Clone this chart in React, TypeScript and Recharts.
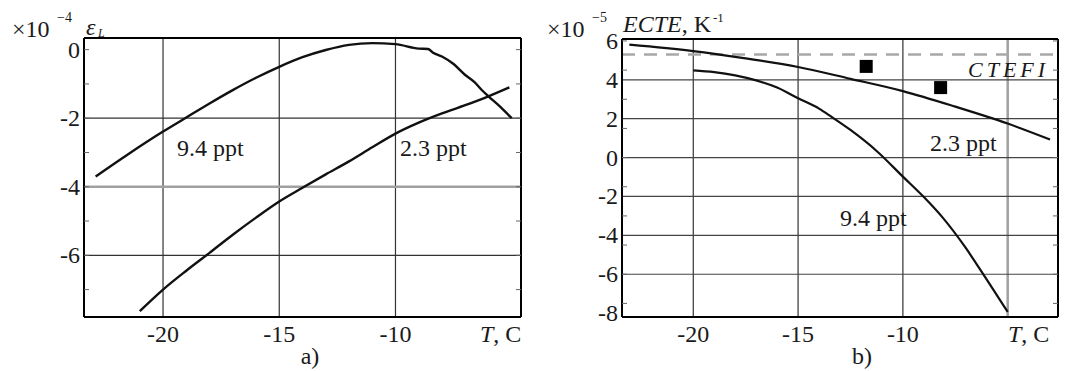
import React from "react";
import { ComposedChart, Line, Scatter, XAxis, YAxis, ReferenceLine } from "recharts";

// panel a) strain vs temperature, x10^-4
const epsHigh = [
  { x: -22.9, y: -3.7 }, { x: -21.5, y: -3.05 }, { x: -20, y: -2.39 }, { x: -19, y: -1.98 },
  { x: -18, y: -1.57 }, { x: -17, y: -1.18 }, { x: -16, y: -0.82 }, { x: -15, y: -0.5 },
  { x: -14, y: -0.22 }, { x: -13, y: -0.01 }, { x: -12, y: 0.14 }, { x: -11, y: 0.19 },
  { x: -10, y: 0.16 }, { x: -9, y: 0.03 }, { x: -8.6, y: 0.02 }, { x: -8.4, y: -0.08 },
  { x: -8, y: -0.2 }, { x: -7.5, y: -0.42 }, { x: -7, y: -0.74 }, { x: -6.6, y: -0.95 },
  { x: -6.3, y: -1.17 }, { x: -6, y: -1.36 }, { x: -5.5, y: -1.66 }, { x: -5, y: -2.0 },
];
const epsLow = [
  { x: -21, y: -7.63 }, { x: -20, y: -7.0 }, { x: -19, y: -6.45 }, { x: -18, y: -5.93 },
  { x: -17, y: -5.4 }, { x: -16, y: -4.9 }, { x: -15, y: -4.43 }, { x: -14, y: -4.03 },
  { x: -13, y: -3.64 }, { x: -12, y: -3.26 }, { x: -11, y: -2.85 }, { x: -10, y: -2.45 },
  { x: -9, y: -2.13 }, { x: -8, y: -1.86 }, { x: -7, y: -1.62 }, { x: -6, y: -1.36 },
  { x: -5.1, y: -1.1 },
];

// panel b) ECTE vs temperature, x10^-5 K^-1
const ecteLow = [
  { x: -23.05, y: 5.81 }, { x: -20, y: 5.48 }, { x: -17.5, y: 5.1 }, { x: -15, y: 4.66 },
  { x: -12.5, y: 4.05 }, { x: -10, y: 3.42 }, { x: -7.5, y: 2.62 }, { x: -5, y: 1.75 },
  { x: -2.98, y: 0.93 },
];
const ecteHigh = [
  { x: -20, y: 4.49 }, { x: -19, y: 4.4 }, { x: -18, y: 4.23 }, { x: -17, y: 3.97 },
  { x: -16, y: 3.6 }, { x: -15, y: 3.05 }, { x: -14, y: 2.52 }, { x: -13.4, y: 2.09 },
  { x: -12.5, y: 1.42 }, { x: -11.2, y: 0.29 }, { x: -10, y: -0.98 }, { x: -9, y: -2.03 },
  { x: -8.13, y: -3.05 }, { x: -7, y: -4.65 }, { x: -6.5, y: -5.45 }, { x: -5, y: -7.94 },
];
const measured = [{ x: -11.75, y: 4.69 }, { x: -8.2, y: 3.6 }];
const ctefi = 5.3;

const ticksXA = [-20, -15, -10];
const ticksYA = [0, -2, -4, -6];
const ticksXB = [-20, -15, -10];
const ticksYB = [6, 4, 2, 0, -2, -4, -6, -8];

const range = (a: number, b: number, s: number) => {
  const out: number[] = [];
  for (let v = a; v <= b + 1e-9; v += s) out.push(Math.round(v * 100) / 100);
  return out;
};

const FONT = "Liberation Serif";
const FS = 24;

const xTick = (p: any) => (
  <text x={p.x} y={p.y + 25} textAnchor="middle" fontFamily={FONT} fontSize={FS} fill="#1a1a1a">
    {p.payload.value}
  </text>
);
const yTick = (p: any) => (
  <text x={p.x - 4} y={p.y + 8} textAnchor="end" fontFamily={FONT} fontSize={FS} fill="#1a1a1a">
    {p.payload.value}
  </text>
);
const noLabel = () => <g />;

const square = (p: any) => <rect x={p.cx - 6.5} y={p.cy - 6.5} width={13} height={13} fill="#000" />;

export default function App() {
  const minorProps = { tick: noLabel, tickSize: 5, mirror: true, axisLine: { stroke: "#000", strokeWidth: 2 }, tickLine: { stroke: "#666", strokeWidth: 1 } } as any;
  const domA = { x: [-23.4, -4.6], y: [-7.8, 0.34] };
  const domB = { x: [-23.4, -2.6], y: [-8.2, 6.1] };
  const mxA = range(-23, -5, 1);
  const myA = range(-7.5, 0, 0.5);
  const mxB = range(-23, -3, 1);
  const myB = range(-8, 6, 0.5);

  return (
    <div style={{ position: "absolute", left: 0, top: 0, width: 1075, height: 371, background: "#fff" }}>
      <div style={{ position: "absolute", left: 0, top: 0 }}>
        <ComposedChart width={537} height={371} margin={{ top: 38, left: 83, right: 16, bottom: 53 }}>
          <XAxis dataKey="x" type="number" domain={domA.x} allowDataOverflow ticks={ticksXA} height={1}
            tickLine={false} axisLine={false} tickSize={0} tickMargin={0} tick={xTick} />
          <YAxis type="number" domain={domA.y} allowDataOverflow ticks={ticksYA} width={1}
            tickLine={false} axisLine={false} tickSize={0} tickMargin={0} tick={yTick} />
          <XAxis xAxisId="b" orientation="bottom" type="number" domain={domA.x} allowDataOverflow ticks={mxA} height={1} {...minorProps} />
          <XAxis xAxisId="t" orientation="top" type="number" domain={domA.x} allowDataOverflow ticks={mxA} height={1} {...minorProps} />
          <YAxis yAxisId="l" orientation="left" type="number" domain={domA.y} allowDataOverflow ticks={myA} width={1} {...minorProps} />
          <YAxis yAxisId="r" orientation="right" type="number" domain={domA.y} allowDataOverflow ticks={myA} width={1} {...minorProps} />
          {ticksXA.map((v) => <ReferenceLine key={"vx" + v} x={v} stroke="#333" strokeWidth={1.2} />)}
          <ReferenceLine y={-2} stroke="#333" strokeWidth={1.2} />
          <ReferenceLine y={-4} stroke="#a0a0a0" strokeWidth={2.5} />
          <ReferenceLine y={-6} stroke="#333" strokeWidth={1.2} />
          <Line data={epsHigh} dataKey="y" type="monotone" stroke="#111" strokeWidth={2.4} dot={false} isAnimationActive={false} />
          <Line data={epsLow} dataKey="y" type="monotone" stroke="#111" strokeWidth={2.4} dot={false} isAnimationActive={false} />
        </ComposedChart>
      </div>
      <div style={{ position: "absolute", left: 537, top: 0 }}>
        <ComposedChart width={538} height={371} margin={{ top: 39, left: 84, right: 17, bottom: 53 }}>
          <XAxis dataKey="x" type="number" domain={domB.x} allowDataOverflow ticks={ticksXB} height={1}
            tickLine={false} axisLine={false} tickSize={0} tickMargin={0} tick={xTick} />
          <YAxis dataKey="y" type="number" domain={domB.y} allowDataOverflow ticks={ticksYB} width={1}
            tickLine={false} axisLine={false} tickSize={0} tickMargin={0} tick={yTick} />
          <XAxis xAxisId="b" orientation="bottom" type="number" domain={domB.x} allowDataOverflow ticks={mxB} height={1} {...minorProps} />
          <XAxis xAxisId="t" orientation="top" type="number" domain={domB.x} allowDataOverflow ticks={mxB} height={1} {...minorProps} />
          <YAxis yAxisId="l" orientation="left" type="number" domain={domB.y} allowDataOverflow ticks={myB} width={1} {...minorProps} />
          <YAxis yAxisId="r" orientation="right" type="number" domain={domB.y} allowDataOverflow ticks={myB} width={1} {...minorProps} />
          {ticksXB.map((v) => <ReferenceLine key={"vx" + v} x={v} stroke="#333" strokeWidth={1.2} />)}
          <ReferenceLine x={-5} stroke="#a0a0a0" strokeWidth={2.5} />
          {[4, 2, 0, -2, -4, -6].map((v) => <ReferenceLine key={"hy" + v} y={v} stroke="#444" strokeWidth={1.2} />)}
          <ReferenceLine y={ctefi} stroke="#a8a8a8" strokeWidth={2.5} strokeDasharray="13 9" />
          <Line data={ecteLow} dataKey="y" type="monotone" stroke="#111" strokeWidth={2.2} dot={false} isAnimationActive={false} />
          <Line data={ecteHigh} dataKey="y" type="monotone" stroke="#111" strokeWidth={2.2} dot={false} isAnimationActive={false} />
          <Scatter data={measured} dataKey="y" shape={square} isAnimationActive={false} />
        </ComposedChart>
      </div>
      <svg width={1075} height={371} style={{ position: "absolute", left: 0, top: 0, pointerEvents: "none" }}
        fontFamily={FONT} fill="#1a1a1a">
        <text x={12} y={36.5} fontSize={FS}>×10</text>
        <text x={57} y={22} fontSize={14}>−4</text>
        <text x={86} y={35} fontSize={FS} fontStyle="italic">ε</text>
        <text x={98} y={37} fontSize={12} fontStyle="italic">L</text>
        <text x={177} y={156} fontSize={FS}>9.4 ppt</text>
        <text x={400} y={156} fontSize={FS}>2.3 ppt</text>
        <text x={480} y={342} fontSize={FS}><tspan fontStyle="italic">T</tspan>, C</text>
        <text x={310} y={364} fontSize={FS} textAnchor="middle">a)</text>

        <text x={547} y={36.5} fontSize={FS}>×10</text>
        <text x={592} y={22} fontSize={14}>−5</text>
        <text x={623} y={32} fontSize={24}><tspan fontStyle="italic">ECTE</tspan>, K</text>
        <text x={713} y={22} fontSize={13}>-1</text>
        <text x={968} y={77} fontSize={22} fontStyle="italic" letterSpacing={4}>CTEFI</text>
        <text x={930} y={151} fontSize={FS}>2.3 ppt</text>
        <text x={840} y={226} fontSize={FS}>9.4 ppt</text>
        <text x={1008} y={342} fontSize={FS}><tspan fontStyle="italic">T</tspan>, C</text>
        <text x={862} y={364} fontSize={FS} textAnchor="middle">b)</text>
      </svg>
    </div>
  );
}
